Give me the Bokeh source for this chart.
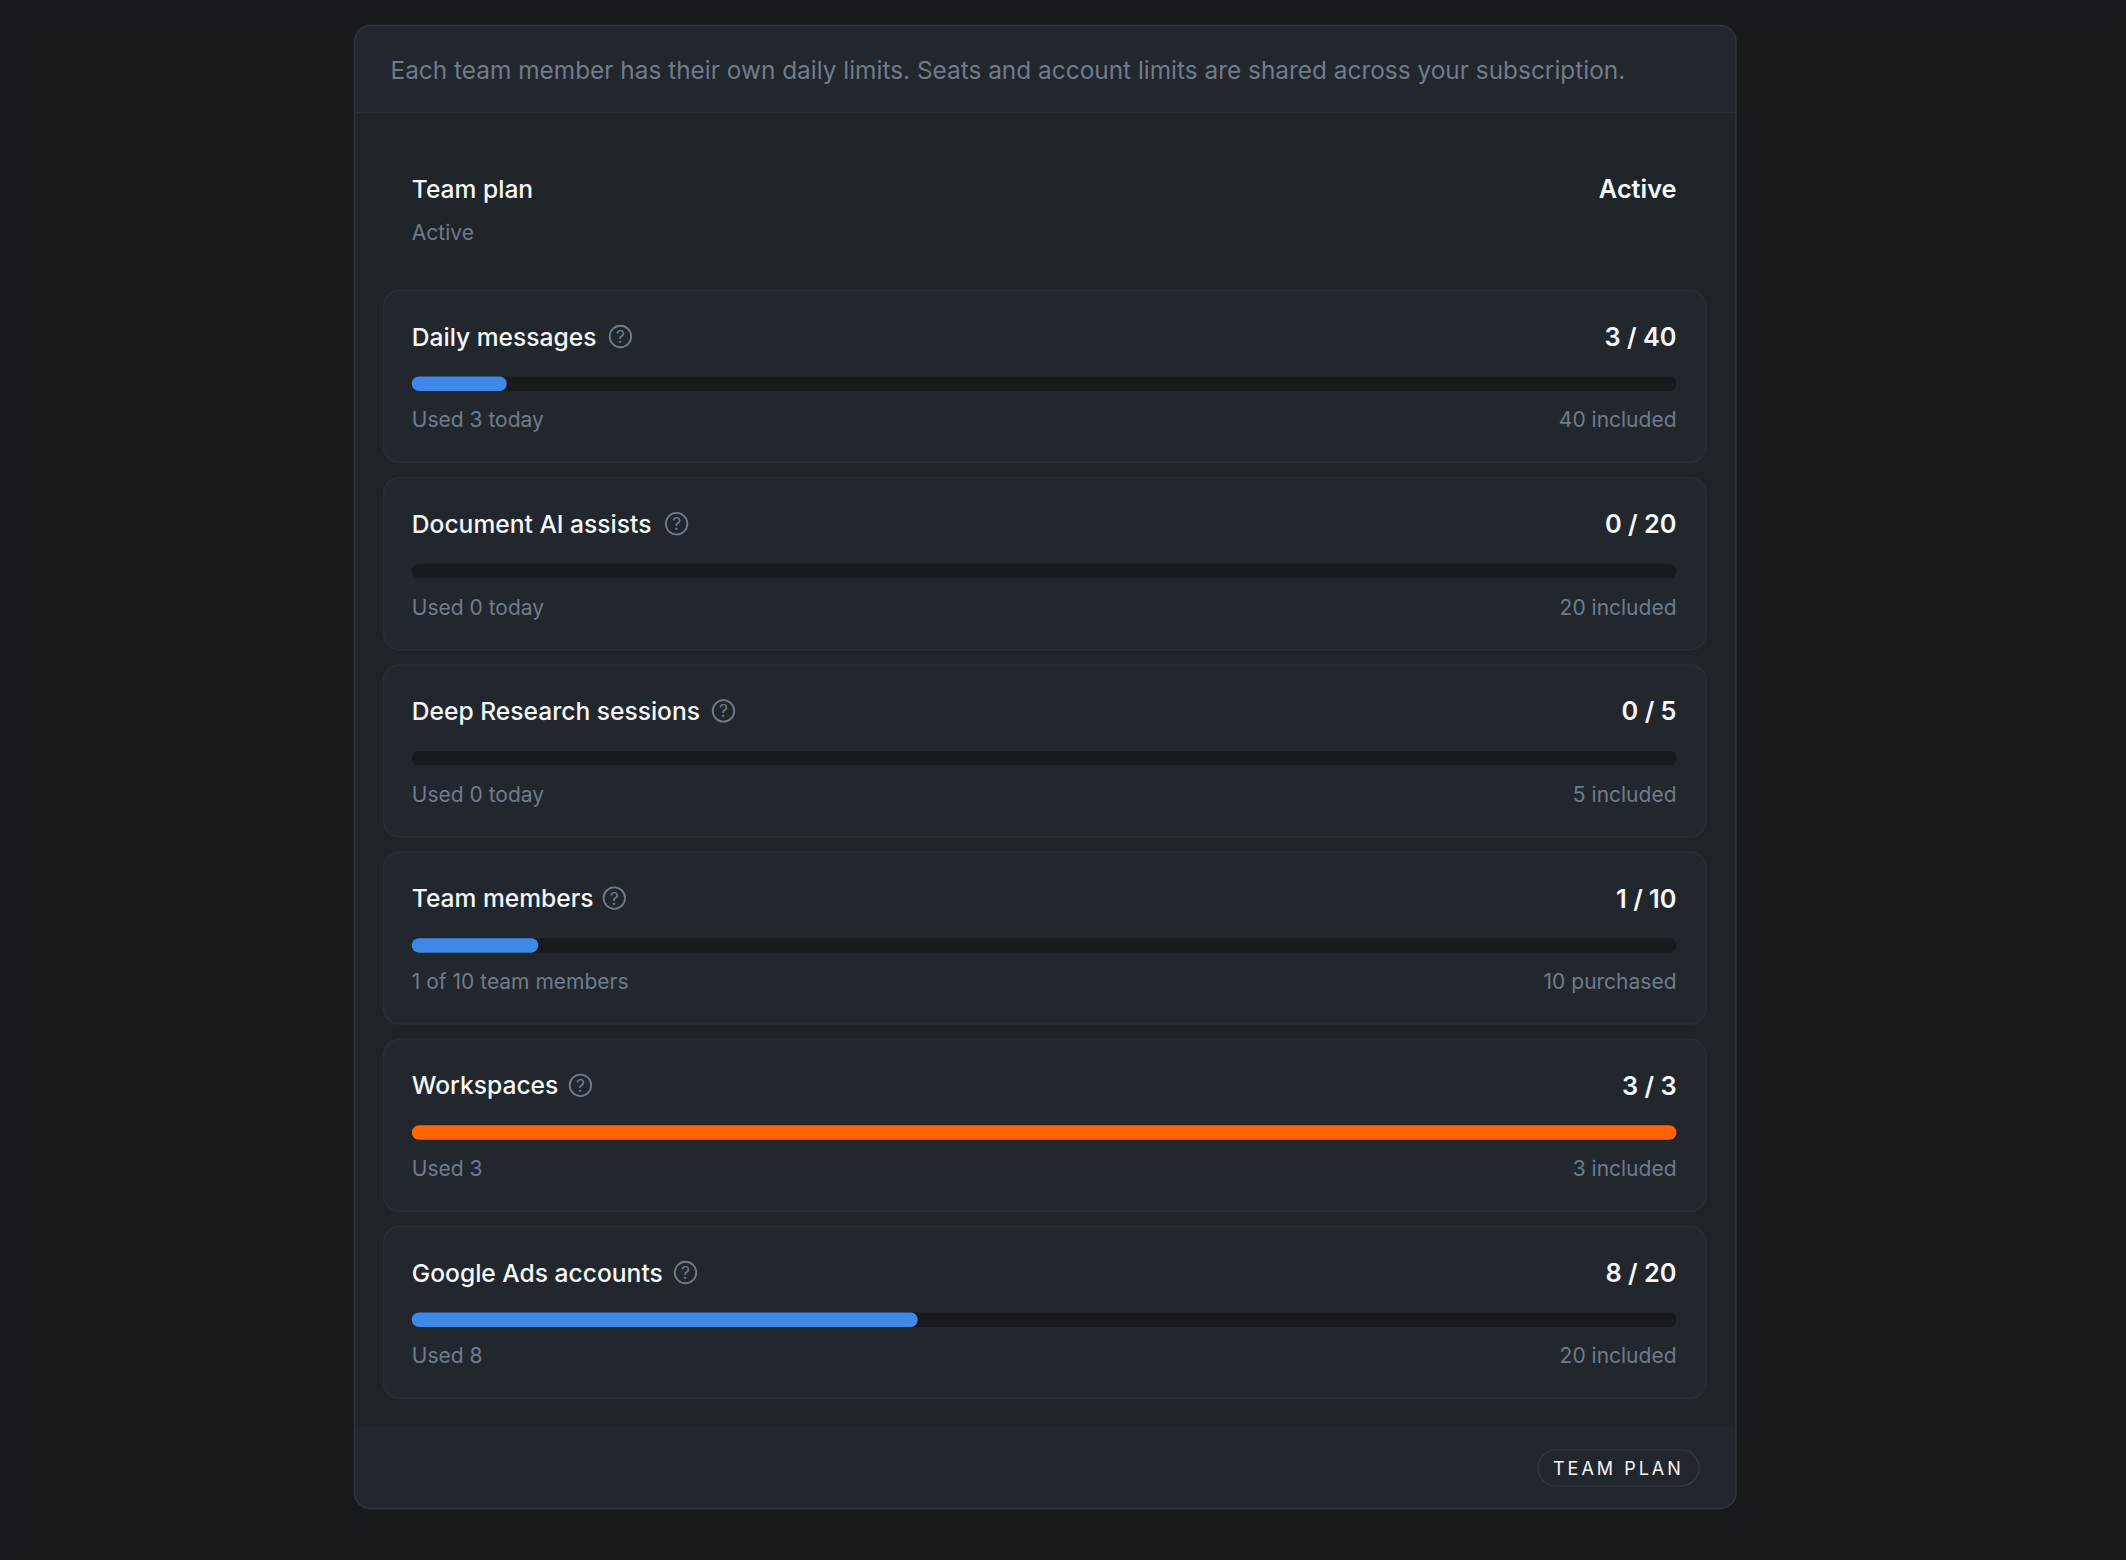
from bokeh.core.properties import value
from bokeh.embed import file_html
from bokeh.layouts import column
from bokeh.resources import INLINE
from bokeh.models import ColumnDataSource, Range1d
from bokeh.plotting import figure

# Data
LABELS = ["Daily messages", "Document AI assists", "Deep Research sessions", "Team members", "Workspaces", "Google Ads accounts"]
USED = [3, 0, 0, 1, 3, 8]
LIMIT = [40, 20, 5, 10, 3, 20]
NOTE_LEFT = ["Used 3 today", "Used 0 today", "Used 0 today", "1 of 10 team members", "Used 3", "Used 8"]
NOTE_RIGHT = ["40 included", "20 included", "5 included", "10 purchased", "3 included", "20 included"]
HEADER = "Each team member has their own daily limits. Seats and account limits are shared across your subscription."
PLAN = "Team plan"
PLAN_SUB = "Active"
PLAN_STATE = "Active"
BADGE = "TEAM PLAN"

# Layout (page pixels)
ICON_X = [620.9, 677.1, 724, 614.8, 580.9, 686]
FONT = "Inter"
MED = "Inter Medium"
SEMI = "Inter SemiBold"
BG, PANEL, STRIP, CARD = "#171b1e", "#1f2428", "#22262d", "#22272e"
EDGE, CARD_EDGE, TRACK = "#31363c", "#292e34", "#181b1e"
BLUE, ORANGE, WHITE, MUTED = "#3f88e8", "#ff6600", "#f5f7f9", "#707c8a"
BAR_L, BAR_R = 412.3, 1677
CARD_T0, STEP = 291, 187.2

p = figure(width=2110, height=1544, output_backend="svg", toolbar_location=None,
           x_range=Range1d(1, 2111), y_range=Range1d(1545, 1),
           x_axis_type="linear", min_border=0, outline_line_color=None,
           background_fill_color=BG, border_fill_color=BG)
p.axis.visible = False
p.grid.visible = False

# Panel, header, footer
PL, PR, PT, PB = 355, 1736.5, 26, 1509
p.quad(left=[PL], right=[PR], top=[PT], bottom=[PB], fill_color=PANEL, line_color=None, border_radius=16)
p.quad(left=[PL], right=[PR], top=[PT], bottom=[113], fill_color=STRIP, line_color=None,
       border_radius=(16, 16, 0, 0))
p.quad(left=[PL], right=[PR], top=[1427], bottom=[PB], fill_color=STRIP, line_color=None,
       border_radius=(0, 0, 16, 16))
p.quad(left=[PL], right=[PR], top=[PT], bottom=[PB], fill_color=None, line_color=EDGE, line_width=1.5, border_radius=16)
p.segment(x0=[PL], x1=[PR], y0=[113], y1=[113], line_color="#2a2f34", line_width=1.5)

# Cards and bars
n = len(LABELS)
tops = [CARD_T0 + STEP * i for i in range(n)]
p.quad(left=[384] * n, right=[1706.5] * n, top=tops, bottom=[t + 172 for t in tops],
       fill_color=CARD, line_color=CARD_EDGE, line_width=1.5, border_radius=16)

bar_y = [t + 93.3 for t in tops]
p.hbar(y=bar_y, height=14.5, left=[BAR_L] * n, right=[BAR_R] * n, fill_color=TRACK, line_color=None, border_radius=7)

fills = [i for i in range(n) if USED[i] > 0]
fill_src = ColumnDataSource(dict(
    y=[bar_y[i] for i in fills],
    left=[BAR_L for _ in fills],
    right=[BAR_L + (BAR_R - BAR_L) * USED[i] / LIMIT[i] for i in fills],
    color=[ORANGE if USED[i] >= LIMIT[i] else BLUE for i in fills],
))
p.hbar(y="y", height=14.5, left="left", right="right", fill_color="color", line_color=None,
       border_radius=7, source=fill_src)

# Texts
def txt(fig, x, y, s, size, color, font=FONT, align="left"):
    fig.text(x=[x], y=[y], text=[s], text_font=value(font), text_font_size=value(f"{size}px"), text_color=color,
             text_align=align, text_baseline="middle")

txt(p, 391, 70.5, HEADER, 24.4, MUTED)
txt(p, BAR_L, 189, PLAN, 24.6, WHITE, MED)
txt(p, BAR_L, 232.5, PLAN_SUB, 21, MUTED)
txt(p, BAR_R, 189, PLAN_STATE, 25.3, WHITE, SEMI, "right")

for i in range(n):
    t = tops[i]
    txt(p, BAR_L, t + 46, LABELS[i], 24.6, WHITE, MED)
    txt(p, BAR_R, t + 46, f"{USED[i]} / {LIMIT[i]}", 25.3, WHITE, SEMI, "right")
    txt(p, BAR_L, t + 129.3, NOTE_LEFT[i], 21, MUTED)
    txt(p, BAR_R, t + 129.3, NOTE_RIGHT[i], 21, MUTED, FONT, "right")
    p.scatter(x=[ICON_X[i]], y=[t + 46], size=21.5, marker="circle", fill_color=None, line_color=MUTED, line_width=1.8)
    txt(p, ICON_X[i], t + 46, "?", 17.5, MUTED, FONT, "center")

# Badge
p.quad(left=[1538.5], right=[1699.5], top=[1450.5], bottom=[1486.5], fill_color=None, line_color="#353a41",
       line_width=1.2, border_radius=18)

# Badge text: its own small transparent figure, so letter-spacing applies only to it
b = figure(width=160, height=40, output_backend="svg", toolbar_location=None,
           x_range=Range1d(0, 160), y_range=Range1d(40, 0), min_border=0, outline_line_color=None,
           background_fill_alpha=0, border_fill_alpha=0,
           margin=(-96, 0, 0, 1539), styles={"letter-spacing": "3px"})
b.axis.visible = False
b.grid.visible = False
txt(b, 13.5, 20, BADGE, 18, WHITE, FONT)

html = file_html(column(p, b, spacing=0), INLINE)
html = html.replace("<head>", f"<head><style>html,body{{background:{BG};}}</style>", 1)
open("out.html", "w").write(html)
